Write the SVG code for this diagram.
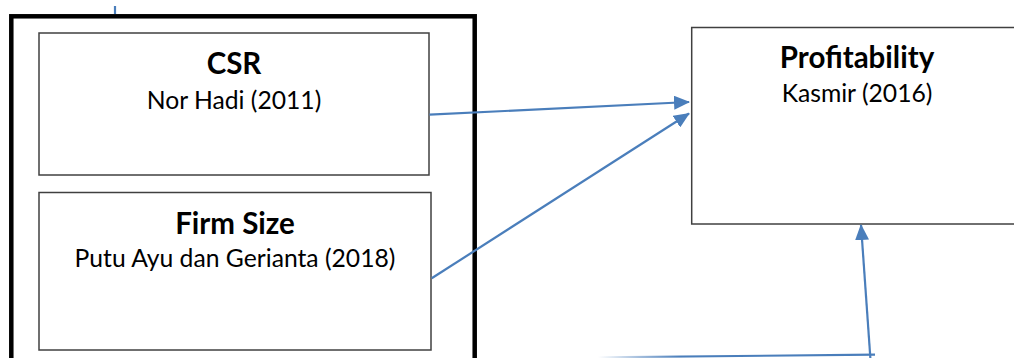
<svg xmlns="http://www.w3.org/2000/svg" width="1014" height="358" viewBox="0 0 1014 358">
<style>
.box{fill:#fff;stroke:#404040;stroke-width:1.5}
.outer{fill:none;stroke:#000;stroke-width:4.5}
.t{font-family:Lato,"Liberation Sans",sans-serif;text-anchor:middle;fill:#000}
.h{font-weight:bold;font-size:29.5px}
.s{font-size:24.7px}
.c{fill:none;stroke:#4a7ebb;stroke-width:2.2}
</style>
<defs>
<marker id="ah" viewBox="0 0 16 14" refX="15" refY="7" markerWidth="16" markerHeight="14" markerUnits="userSpaceOnUse" orient="auto">
<path d="M0,0 L16,7 L0,14 Z" fill="#4a7ebb"/>
</marker>
<linearGradient id="fade" gradientUnits="userSpaceOnUse" x1="598" y1="0" x2="680" y2="0">
<stop offset="0" stop-color="#4a7ebb" stop-opacity="0"/>
<stop offset="1" stop-color="#4a7ebb" stop-opacity="1"/>
</linearGradient>
</defs>
<rect width="1014" height="358" fill="#fff"/>
<g id="group-outer">
<rect class="outer" x="11.3" y="16.3" width="463.4" height="360"/>
</g>
<g id="node-csr">
<rect class="box" x="39" y="33" width="390" height="142"/>
<text class="t h" x="234" y="74">CSR</text>
<text class="t s" x="234" y="108.5">Nor Hadi (2011)</text>
</g>
<g id="node-firmsize">
<rect class="box" x="39" y="192.5" width="392" height="157.5"/>
<text class="t h" x="235" y="234">Firm Size</text>
<text class="t s" x="235" y="266.5">Putu Ayu dan Gerianta (2018)</text>
</g>
<g id="node-profitability">
<rect class="box" x="691.7" y="27.5" width="340" height="196.5"/>
<text class="t h" x="857" y="68">Profitability</text>
<text class="t s" x="857" y="101.5">Kasmir (2016)</text>
</g>
<g id="connectors">
<line class="c" x1="115" y1="6" x2="115" y2="14"/>
<line class="c" x1="429.5" y1="114.7" x2="689" y2="102" marker-end="url(#ah)"/>
<line class="c" x1="431.7" y1="278.3" x2="689" y2="113.5" marker-end="url(#ah)"/>
<path d="M598,357.3 L875,354.7" fill="none" stroke="url(#fade)" stroke-width="2.2"/>
<line class="c" x1="870.5" y1="360" x2="861" y2="225" marker-end="url(#ah)"/>
</g>
</svg>
